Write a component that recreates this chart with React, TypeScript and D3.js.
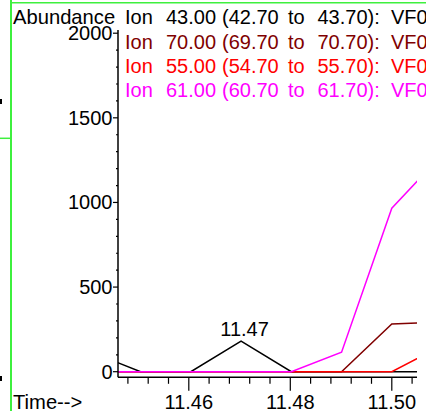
import React from "react";
import * as d3 from "d3";

const times = [11.4406, 11.4505, 11.4604, 11.4703, 11.4802, 11.4901, 11.5, 11.5099];
const ion43 = [118, 0, 0, 181, 0, 0, 0, 0];
const ion70 = [0, 0, 0, 0, 0, 0, 282, 294];
const ion55 = [0, 0, 0, 0, 0, 0, 0, 155];
const ion61 = [0, 0, 0, 0, 0, 115, 966, 1283];

const legendLabels = [
  "43.00 (42.70 to 43.70): VF0",
  "70.00 (69.70 to 70.70): VF0",
  "55.00 (54.70 to 55.70): VF0",
  "61.00 (60.70 to 61.70): VF0",
];
const seriesColors = ["#000000", "#800000", "#ff0000", "#ff00ff"];
const xMajorTicks = [11.46, 11.48, 11.5];
const yMajorTicks = [0, 500, 1000, 1500, 2000];
const peakLabel = "11.47";
const peakTime = 11.4703;

const W = 426;
const H = 412;
const FONT = "'Liberation Sans', Arial, sans-serif";
const tokenX = [166, 222, 288, 317.5, 391];

export default function App() {
  const plotLeft = 118;
  const plotRight = 417;
  const axisY = 377.3;
  const x = d3.scaleLinear().domain([11.46, 11.5]).range([188.8, 391.8]);
  const y = d3.scaleLinear().domain([0, 2000]).range([371.7, 33.2]);
  const series = [ion43, ion70, ion55, ion61];
  const line = d3
    .line<number>()
    .x((_, i) => x(times[i]))
    .y((v) => y(v));

  const xMinor = d3.range(0, 40).map((i) => 11.44 + i * 0.004).filter((t) => {
    const px = x(t);
    return px > plotLeft + 2 && px < plotRight;
  });
  const yMinor = d3.range(0, 21).map((i) => i * 100);

  const peakIdx = times.indexOf(peakTime);

  return (
    <svg
      width={W}
      height={H}
      style={{ position: "absolute", left: 0, top: 0, background: "#fff" }}
      fontFamily={FONT}
    >
      <defs>
        <clipPath id="plot">
          <rect x={plotLeft} y={0} width={plotRight - plotLeft} height={axisY} />
        </clipPath>
      </defs>
      <rect x={0} y={0} width={W} height={H} fill="#fff" />
      {/* green frame pieces */}
      <line x1={11} y1={0} x2={11} y2={411} stroke="#3ef03e" strokeWidth={2} />
      <line x1={11} y1={2.7} x2={W} y2={2.7} stroke="#3ef03e" strokeWidth={1.5} />
      <line x1={0} y1={138.3} x2={11} y2={138.3} stroke="#3ef03e" strokeWidth={1.5} />
      <rect x={0} y={99} width={2} height={5} fill="#000" />
      <rect x={0} y={376} width={2} height={5} fill="#000" />

      {/* series */}
      <g clipPath="url(#plot)">
        {series.map((s, i) => (
          <path key={i} d={line(s) || ""} fill="none" stroke={seriesColors[i]} strokeWidth={1.5} />
        ))}
      </g>

      {/* axes */}
      <line x1={plotLeft} y1={30} x2={plotLeft} y2={axisY} stroke="#000" strokeWidth={1.5} />
      <line x1={plotLeft} y1={axisY} x2={plotRight} y2={axisY} stroke="#000" strokeWidth={1.5} />
      {yMinor.map((v) => (
        <line key={"ym" + v} x1={plotLeft - (v % 500 === 0 ? 5 : 2)} x2={plotLeft} y1={y(v)} y2={y(v)} stroke="#000" strokeWidth={1.2} />
      ))}
      {yMajorTicks.map((v) => (
        <text key={"yl" + v} x={112.5} y={y(v) + 7} textAnchor="end" fontSize={20} fill="#000">
          {v}
        </text>
      ))}
      {xMinor.map((t) => {
        const major = xMajorTicks.some((m) => Math.abs(m - t) < 1e-6);
        return (
          <line key={"xm" + t} x1={x(t)} x2={x(t)} y1={axisY} y2={axisY + (major ? 13.5 : 6.5)} stroke="#000" strokeWidth={1.2} />
        );
      })}
      {xMajorTicks.map((t) => (
        <text key={"xl" + t} x={x(t)} y={408.5} textAnchor="middle" fontSize={20} fill="#000">
          {t.toFixed(2)}
        </text>
      ))}

      {/* peak label */}
      <text x={x(times[peakIdx]) + 3.5} y={y(series[0][peakIdx]) - 5.5} textAnchor="middle" fontSize={20} fill="#000">
        {peakLabel}
      </text>

      {/* titles */}
      <text x={13} y={24.3} fontSize={20.2} fill="#000">Abundance</text>
      <text x={13} y={408.5} fontSize={20.2} fill="#000">Time--&gt;</text>

      {/* legend */}
      {legendLabels.map((lab, i) => (
        <text key={"lg" + i} fill={seriesColors[i]} fontSize={20} y={24.3 + i * 24.2}>
          <tspan x={125}>Ion</tspan>
          {lab.split(" ").map((tok, j) => (
            <tspan key={j} x={tokenX[j]}>{tok}</tspan>
          ))}
        </text>
      ))}
    </svg>
  );
}
